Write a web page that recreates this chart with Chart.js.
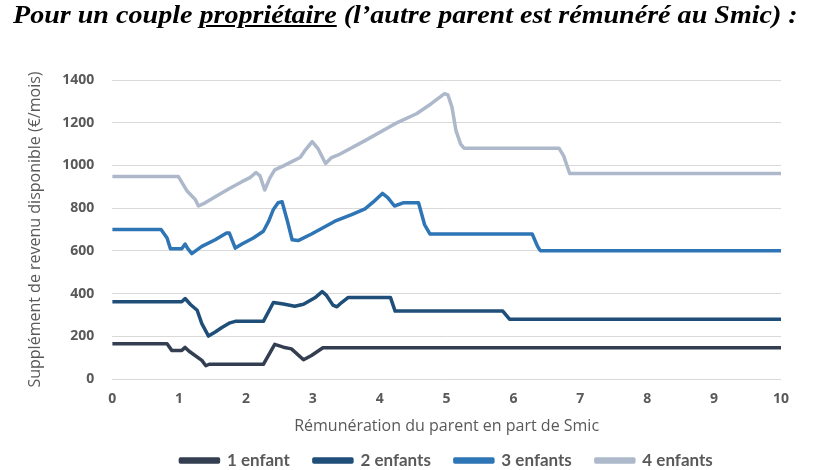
<!DOCTYPE html>
<html>
<head>
<meta charset="utf-8">
<script src="https://cdn.jsdelivr.net/npm/chart.js@4"></script>
<style>
  body { margin: 0; background: #fff; overflow: hidden; }
  #wrap { position: relative; width: 819px; height: 470px; }
  #title {
    position: absolute; left: 13px; top: 0px; white-space: nowrap;
    font-family: "Liberation Serif", serif; font-weight: bold; font-style: italic;
    font-size: 26px; color: #000;
    transform: scaleX(1.08); transform-origin: left top;
  }
  #chart { position: absolute; left: 0; top: 0; }
</style>
</head>
<body>
<div id="wrap">
  <canvas id="chart" width="819" height="470"></canvas>
  <div id="title">Pour un couple <u>propriétaire</u> (l’autre parent est rémunéré au Smic) :</div>
</div>
<script>
// Rémunération du parent (en part de Smic) et supplément de revenu (€/mois)
const x1 = [0, 0.82, 0.89, 1.04, 1.09, 1.15, 1.34, 1.40, 1.45, 2.26, 2.43, 2.56, 2.68, 2.86, 2.98, 3.15, 10];
const enfant1 = [165, 165, 134, 134, 148, 130, 87, 62, 69, 69, 162, 149, 141, 90, 110, 146, 146];

const x2 = [0, 1.04, 1.09, 1.17, 1.27, 1.34, 1.44, 1.54, 1.64, 1.76, 1.84, 2.26, 2.41, 2.56, 2.73, 2.86, 3.03, 3.14, 3.20, 3.30, 3.36, 3.43, 3.53, 4.16, 4.23, 5.84, 5.94, 10];
const enfant2 = [362, 362, 377, 349, 322, 259, 201, 220, 241, 263, 270, 270, 358, 351, 341, 350, 380, 409, 393, 346, 338, 358, 382, 382, 318, 318, 280, 280];

const x3 = [0, 0.73, 0.82, 0.87, 1.04, 1.09, 1.13, 1.19, 1.34, 1.54, 1.71, 1.75, 1.84, 1.94, 2.11, 2.26, 2.34, 2.41, 2.48, 2.54, 2.62, 2.69, 2.78, 2.98, 3.33, 3.58, 3.78, 3.90, 4.04, 4.12, 4.22, 4.35, 4.58, 4.67, 4.75, 6.28, 6.36, 6.40, 10];
const enfant3 = [700, 700, 660, 610, 610, 632, 610, 587, 621, 652, 684, 684, 613, 632, 660, 692, 739, 794, 825, 830, 739, 652, 648, 679, 739, 770, 797, 828, 869, 849, 810, 825, 825, 723, 679, 679, 621, 601, 601];

const x4 = [0, 0.99, 1.12, 1.19, 1.24, 1.29, 1.39, 1.56, 1.76, 1.94, 2.06, 2.15, 2.21, 2.28, 2.36, 2.43, 2.56, 2.73, 2.81, 2.88, 2.99, 3.08, 3.19, 3.28, 3.38, 3.78, 4.27, 4.55, 4.77, 4.97, 5.02, 5.08, 5.14, 5.21, 5.26, 6.68, 6.75, 6.84, 10];
const enfant4 = [948, 948, 880, 857, 841, 810, 825, 857, 893, 924, 943, 967, 951, 885, 943, 979, 998, 1025, 1037, 1069, 1111, 1077, 1009, 1037, 1049, 1116, 1202, 1242, 1289, 1336, 1330, 1273, 1163, 1100, 1081, 1081, 1045, 962, 962];

const seriesNames = ['1 enfant', '2 enfants', '3 enfants', '4 enfants'];
const colors = ['#333f50', '#1f4e79', '#2e75b6', '#adb9ca'];

function points(xs, ys) {
  return xs.map((x, i) => ({ x: x, y: ys[i] }));
}

const grey = '#595959';
const allX = [x1, x2, x3, x4];
const allY = [enfant1, enfant2, enfant3, enfant4];

const ctx = document.getElementById('chart').getContext('2d');
const chart = new Chart(ctx, {
  type: 'line',
  data: {
    datasets: seriesNames.map((name, i) => ({
      label: name,
      data: points(allX[i], allY[i]),
      borderColor: colors[i],
      backgroundColor: colors[i],
      borderWidth: 3.5,
      pointRadius: 0,
      tension: 0,
      borderJoinStyle: 'round'
    }))
  },
  options: {
    responsive: false,
    animation: false,
    layout: { padding: { top: 80, left: 26, right: 38, bottom: 0 } },
    plugins: {
      tooltip: { enabled: false },
      legend: {
        position: 'bottom',
        fullSize: false,
        maxHeight: 42,
        labels: {
          boxWidth: 38,
          boxHeight: 3,
          padding: 24,
          color: grey,
          font: { family: 'Lato', size: 17, weight: 'bold' }
        }
      }
    },
    scales: {
      x: {
        type: 'linear',
        min: 0,
        max: 10,
        grid: { display: false, drawTicks: false },
        border: { display: false },
        ticks: {
          stepSize: 1,
          padding: 12,
          color: grey,
          font: { family: 'Open Sans', size: 14, weight: 'bold' }
        },
        title: {
          display: true,
          text: 'Rémunération du parent en part de Smic',
          color: grey,
          padding: { top: -3, bottom: -8 },
          font: { family: 'Open Sans', size: 16 }
        }
      },
      y: {
        min: 0,
        max: 1400,
        grid: { color: '#d9d9d9', lineWidth: 1, drawTicks: false },
        border: { display: false },
        ticks: {
          stepSize: 200,
          padding: 18,
          color: grey,
          font: { family: 'Open Sans', size: 14, weight: 'bold' },
          callback: (v) => String(v)
        },
        title: {
          display: true,
          text: 'Supplément de revenu disponible (€/mois)',
          color: grey,
          padding: { top: 0, bottom: -1 },
          font: { family: 'Open Sans', size: 16 }
        }
      }
    }
  }
});
</script>
</body>
</html>
